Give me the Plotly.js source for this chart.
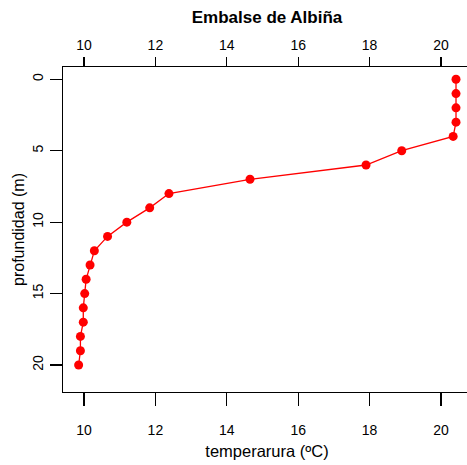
<!DOCTYPE html>
<html>
<head>
<meta charset="utf-8">
<script src="https://cdn.plot.ly/plotly-3.0.1.min.js"></script>
<style>html,body{margin:0;padding:0;overflow:hidden;background:#fff;}#chart{width:480px;height:465px;}</style>
</head>
<body>
<div id="chart"></div>
<script>
const depth = [0, 1, 2, 3, 4, 5, 6, 7, 8, 9, 10, 11, 12, 13, 14, 15, 16, 17, 18, 19, 20];
const temperature = [20.42, 20.42, 20.42, 20.42, 20.34, 18.9, 17.9, 14.65, 12.38, 11.84, 11.2, 10.66, 10.29, 10.17, 10.06, 10.02, 9.98, 9.98, 9.9, 9.9, 9.85];
const xTicks = [10, 12, 14, 16, 18, 20];
const yTicks = [0, 5, 10, 15, 20];
const titleText = 'Embalse de Albiña';
const xLabel = 'temperarura (ºC)';
const yLabel = 'profundidad (m)';

const font = {family: 'Liberation Sans, Arial, sans-serif', color: '#000', size: 14};
const xr = [9.412, 20.84];

const trace = {
  x: temperature, y: depth, type: 'scatter', mode: 'lines+markers',
  line: {color: '#ff0000', width: 1.3},
  marker: {color: '#ff0000', size: 9, symbol: 'circle'},
  hoverinfo: 'skip', showlegend: false
};
const traceTop = {x: [xTicks[0]], y: [depth[0]], xaxis: 'x2', yaxis: 'y', mode: 'markers',
  marker: {opacity: 0}, hoverinfo: 'skip', showlegend: false};

const layout = {
  width: 480, height: 465,
  margin: {l: 63, r: 9, t: 67, b: 73},
  paper_bgcolor: '#fff', plot_bgcolor: '#fff',
  font: font,
  title: {text: '<b>' + titleText + '</b>', font: {family: font.family, size: 17, color: '#000'},
    x: 0.5, xref: 'paper', xanchor: 'center', y: 1 - 17/465, yref: 'container', yanchor: 'middle'},
  xaxis: {range: xr, tickvals: xTicks, ticktext: xTicks.map(String), ticks: 'outside', ticklen: 13, tickwidth: 1.2,
    tickcolor: '#000', showline: true, linecolor: '#000', linewidth: 1.2, mirror: true, showgrid: false, zeroline: false,
    ticklabelstandoff: 12, tickfont: font,
    title: {text: xLabel, font: {family: font.family, size: 16.5, color: '#000'}, standoff: 8}},
  xaxis2: {range: xr, overlaying: 'x', side: 'top', tickvals: xTicks, ticktext: xTicks.map(String), ticks: 'outside',
    ticklen: 9, tickwidth: 1.2, tickcolor: '#000', showline: false, showgrid: false, zeroline: false, tickfont: font,
    ticklabelstandoff: 1},
  yaxis: {range: [21.89, -0.86], tickvals: yTicks, ticktext: yTicks.map(String), ticks: 'outside', ticklen: 12, tickwidth: 1.2,
    tickcolor: '#000', showline: true, linecolor: '#000', linewidth: 1.2, mirror: true, showgrid: false, zeroline: false,
    tickangle: -90, tickfont: font, ticklabelstandoff: 1,
    title: {text: yLabel, font: {family: font.family, size: 16, color: '#000'}, standoff: 1}}
};
Plotly.newPlot('chart', [trace, traceTop], layout, {displayModeBar: false, staticPlot: true});
</script>
</body>
</html>
